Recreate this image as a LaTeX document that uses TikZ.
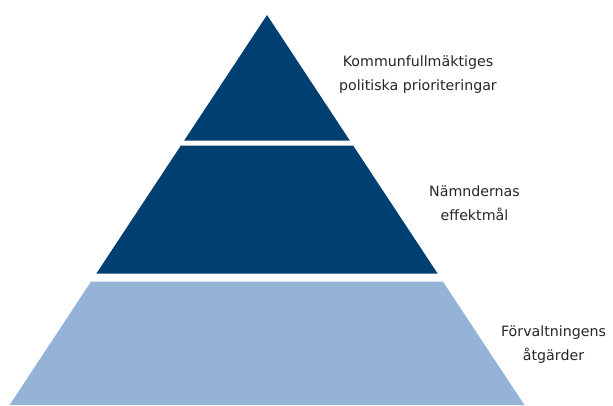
\documentclass[tikz,border=0pt]{standalone}
\usepackage{fontspec}
\setmainfont{DejaVu Sans}
\definecolor{navy}{HTML}{003F72}
\definecolor{lightnavy}{HTML}{95B3D7}
\begin{document}
\begin{tikzpicture}[
        x=1pt, y=-1pt,
        layer/.style={fill=navy},
        baselayer/.style={fill=lightnavy},
        lbl/.style={align=center, inner sep=0pt, text=black!85, font=\fontsize{14.2}{24}\selectfont}
    ]
        \useasboundingbox (0,0) rectangle (613,405);

        % Pyramid layers
        \fill[layer] (267,15) -- (349.8,140.5) -- (184.2,140.5) -- cycle;
        \fill[layer] (180.9,145.5) -- (353.1,145.5) -- (437.6,273.5) -- (96.4,273.5) -- cycle;
        \fill[baselayer] (91.1,281.5) -- (442.9,281.5) -- (524.4,405) -- (9.6,405) -- cycle;

        % Labels
        \node[lbl] (topLbl) at (418,74.5) {Kommunfullmäktiges\\politiska prioriteringar};
        \node[lbl] (midLbl) at (474.5,203) {Nämndernas\\effektmål};
        \node[lbl] (baseLbl) at (553.5,345) {Förvaltningens\\åtgärder};
    \end{tikzpicture}
\end{document}
